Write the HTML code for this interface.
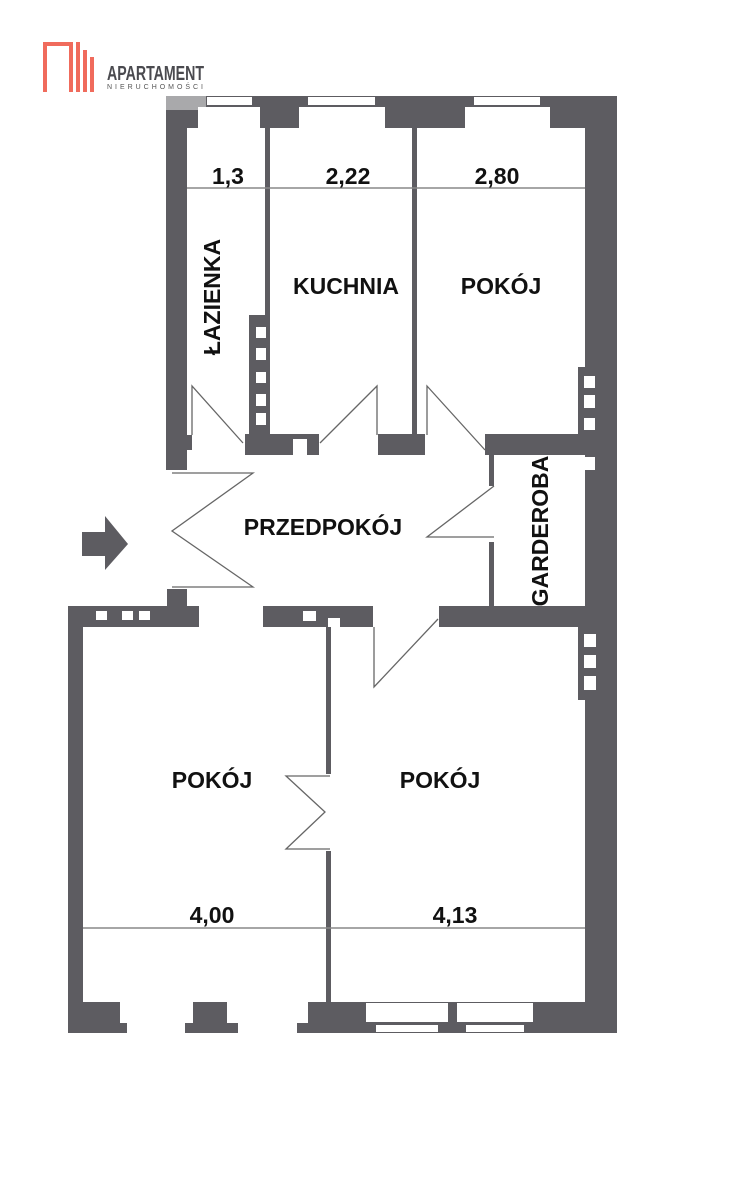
<!DOCTYPE html>
<html><head><meta charset="utf-8"><style>
html,body{margin:0;padding:0;background:#fff;width:734px;height:1200px;overflow:hidden}
svg{display:block}
text{font-family:"Liberation Sans",sans-serif;font-weight:bold;fill:#111}
</style></head><body>
<svg width="734" height="1200" viewBox="0 0 734 1200" xmlns="http://www.w3.org/2000/svg">
<!-- logo -->
<g fill="#f06b5c">
<rect x="43" y="42" width="30" height="4"/><rect x="43" y="42" width="4" height="50"/><rect x="69" y="42" width="4" height="50"/>
<rect x="76" y="42" width="4" height="50"/><rect x="83" y="50" width="4" height="42"/><rect x="90" y="57" width="4" height="35"/>
</g>
<text x="107" y="80" font-size="20" fill="#4a4a4f" style="fill:#4a4a4f" textLength="97" lengthAdjust="spacingAndGlyphs">APARTAMENT</text>
<text x="107" y="89" font-size="7" style="fill:#555;font-weight:normal" textLength="96" lengthAdjust="spacing">NIERUCHOMOŚCI</text>

<g fill="#5d5c61">
<rect x="166" y="96" width="451" height="32"/>
<rect x="166" y="96" width="21" height="374"/>
<rect x="585" y="96" width="32" height="937"/>
<rect x="578" y="367" width="8" height="67"/>
<rect x="578" y="625" width="8" height="75"/>
<rect x="265" y="128" width="5" height="190"/>
<rect x="249" y="315" width="21" height="130"/>
<rect x="412" y="128" width="5" height="310"/>
<rect x="245" y="434" width="74" height="21"/>
<rect x="378" y="434" width="47" height="21"/>
<rect x="485" y="434" width="100" height="21"/>
<rect x="187" y="435" width="5" height="15"/>
<rect x="489" y="455" width="5" height="31"/>
<rect x="489" y="542" width="5" height="66"/>
<rect x="167" y="589" width="20" height="20"/>
<rect x="68" y="606" width="131" height="21"/>
<rect x="263" y="606" width="110" height="21"/>
<rect x="439" y="606" width="148" height="21"/>
<rect x="68" y="606" width="15" height="427"/>
<rect x="326" y="627" width="5" height="147"/>
<rect x="326" y="851" width="5" height="155"/>
<rect x="68" y="1002" width="52" height="31"/>
<rect x="120" y="1023" width="7" height="10"/>
<rect x="193" y="1002" width="34" height="31"/>
<rect x="185" y="1023" width="53" height="10"/>
<rect x="308" y="1002" width="309" height="31"/>
<rect x="297" y="1023" width="11" height="10"/>
<path d="M82 532 H105 V516 L128 544 L105 570 V556 H82 Z"/>
</g>
<rect x="166" y="96" width="40" height="14" fill="#a9a9ab"/>
<g fill="#fff">
<rect x="198" y="107" width="62" height="21"/><rect x="207" y="97" width="45" height="8"/>
<rect x="299" y="107" width="86" height="21"/><rect x="308" y="97" width="67" height="8"/>
<rect x="465" y="107" width="85" height="21"/><rect x="474" y="97" width="66" height="8"/>
<rect x="256" y="327" width="10" height="11"/><rect x="256" y="348" width="10" height="12"/><rect x="256" y="372" width="10" height="11"/><rect x="256" y="394" width="10" height="12"/><rect x="256" y="413" width="10" height="12"/>
<rect x="293" y="439" width="14" height="16"/>
<rect x="584" y="376" width="11" height="12"/><rect x="584" y="395" width="11" height="13"/><rect x="584" y="418" width="11" height="12"/><rect x="584" y="457" width="11" height="13"/>
<rect x="584" y="634" width="12" height="13"/><rect x="584" y="655" width="12" height="13"/><rect x="584" y="676" width="12" height="14"/>
<rect x="96" y="611" width="11" height="9"/><rect x="122" y="611" width="11" height="9"/><rect x="139" y="611" width="11" height="9"/>
<rect x="303" y="611" width="13" height="10"/><rect x="328" y="618" width="12" height="9"/>
<rect x="366" y="1003" width="82" height="19"/><rect x="457" y="1003" width="76" height="19"/>
<rect x="376" y="1025" width="62" height="7"/><rect x="466" y="1025" width="58" height="7"/>
</g>
<g stroke="#888" stroke-width="1.5" fill="none">
<line x1="187" y1="188" x2="585" y2="188"/>
<line x1="83" y1="928" x2="585" y2="928"/>
</g>
<g stroke="#666" stroke-width="1.3" fill="none">
<polyline points="192,435 192,386 243,443"/>
<polyline points="377,435 377,386 320,443"/>
<polyline points="427,435 427,386 485,450"/>
<polyline points="172,473 253,473 172,531 253,587 172,587"/>
<polyline points="494,486 427,537 494,537"/>
<polyline points="374,627 374,687 438,619"/>
<polyline points="330,776 286,776 325,812 286,849 330,849"/>
</g>
<g font-size="23">
<text x="228" y="184" text-anchor="middle">1,3</text>
<text x="348" y="184" text-anchor="middle">2,22</text>
<text x="497" y="184" text-anchor="middle">2,80</text>
<text x="346" y="294" text-anchor="middle">KUCHNIA</text>
<text x="501" y="294" text-anchor="middle">POKÓJ</text>
<text transform="translate(220,297) rotate(-90)" text-anchor="middle">ŁAZIENKA</text>
<text x="323" y="535" text-anchor="middle">PRZEDPOKÓJ</text>
<text transform="translate(548,531) rotate(-90)" text-anchor="middle">GARDEROBA</text>
<text x="212" y="788" text-anchor="middle">POKÓJ</text>
<text x="440" y="788" text-anchor="middle">POKÓJ</text>
<text x="212" y="923" text-anchor="middle">4,00</text>
<text x="455" y="923" text-anchor="middle">4,13</text>
</g>
</svg>
</body></html>
